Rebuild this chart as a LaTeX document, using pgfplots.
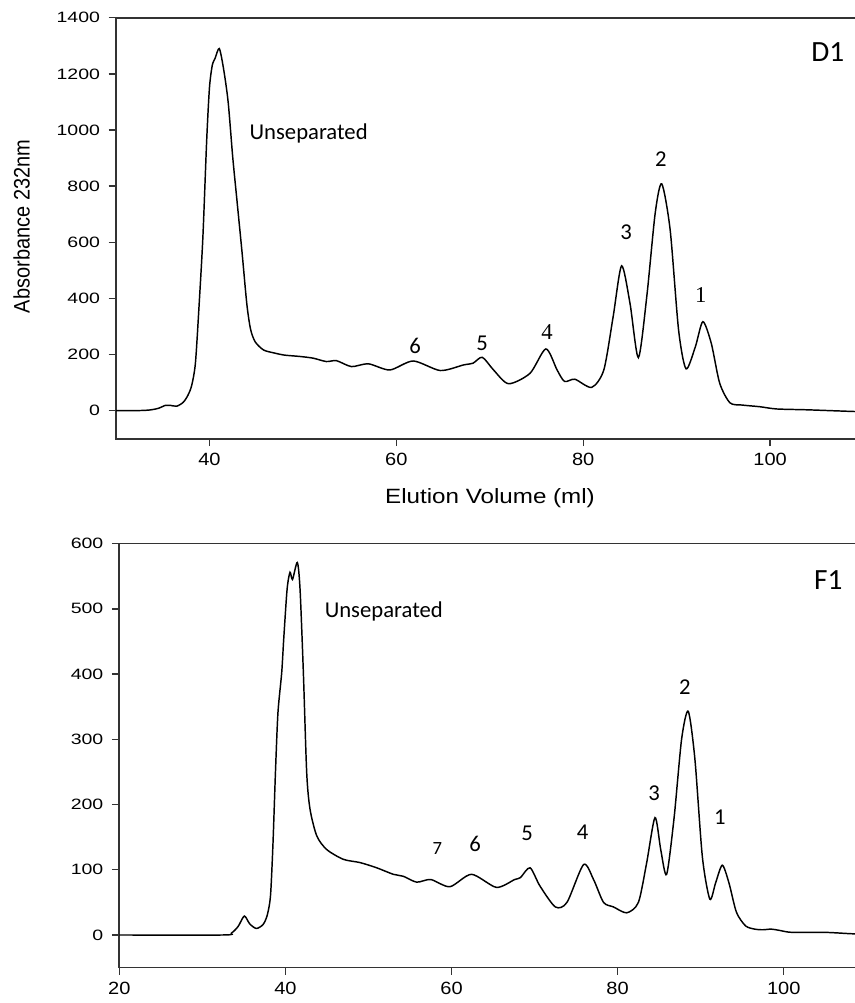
\documentclass[border=0pt]{standalone}
\usepackage{pgfplots}
\pgfplotsset{compat=1.18}
\usepackage{graphicx}
\usepackage{fontspec}
\setmainfont{Liberation Sans}
\newfontfamily\calib{Carlito}
\newfontfamily\tnr{Liberation Serif}

\pgfplotstableread{
x y
30 0
32 0
33.5 2
34.5 8
35.3 19
35.8 19
36.5 16
37.2 30
37.7 55
38.1 90
38.5 170
38.9 380
39.3 620
39.7 960
40.0 1150
40.3 1230
40.6 1255
41.05 1290
41.5 1220
42.0 1100
42.5 900
43.0 730
43.5 560
44.0 380
44.4 290
44.9 245
45.8 216
47 205
48 198
49.7 193
51.1 187
52.5 175
53.6 178
55.2 157
57.0 167
59.3 145
61.8 177
64.7 143
67.2 163
68.2 169
69.2 190
70.4 145
72.0 96
74.3 133
76.0 220
77.2 145
78.0 104
79.1 112
80.9 83
82.2 145
83.2 335
84.1 516
85.0 383
85.9 189
86.8 407
87.7 704
88.4 808
89.3 644
90.2 288
91.0 149
92.0 228
92.8 317
93.7 240
94.6 98
95.7 28
97 20
98.9 14
100.7 6
104 3
109 -3
110 -3
}\dataD

\pgfplotstableread{
x y
20 0
32.5 0
33.5 3
34.3 13
35.05 29
35.7 17
36.5 10
37.3 16
37.8 30
38.2 60
38.5 140
38.8 250
39.1 341
39.55 402
39.8 455
40.2 530
40.55 556
40.85 545
41.43 571
41.76 530
42.16 402
42.56 249
42.96 193
43.77 152
44.97 131
46.97 116
48.98 111
50.99 103
52.99 93
54.2 90
55.8 81
57.5 85
59.8 74
62.4 93
65.4 73
67.6 85
68.3 88
69.45 103
70.65 75
72.5 43
73.9 50
75.9 108
77.1 85
78.3 50
79.5 43
81.1 34
82.5 50
83.5 111
84.5 180
85.2 130
85.9 93
86.8 180
87.7 300
88.5 343
89.3 270
90.2 120
91.1 55
91.8 80
92.6 107
93.4 80
94.3 35
95.4 14
96.5 9
97.5 8
98.5 9
99.5 7
101 4
105 4
108 2
110 1
}\dataF

\pgfplotsset{
  chrom/.style={
    scale only axis,
    axis line style={black!80, line width=1.3pt},
    tick style={black!80, line width=1.1pt},
    major tick length=5.5pt,
    tick align=outside,
    xtick pos=bottom, ytick pos=left,
    /pgf/number format/assume math mode=true,
    /pgf/number format/1000 sep={},
    yticklabel style={font=\fontsize{11.25}{13}\selectfont, xshift=-3pt},
    xticklabel style={font=\fontsize{13.3}{15}\selectfont, yshift=-2pt},
    xticklabel={\scalebox{1.13}[1]{\pgfmathprintnumber{\tick}}},
    yticklabel={\scalebox{1.3}[1]{\pgfmathprintnumber{\tick}}},
  },
}
\tikzset{
  lbl/.style={font=\fontsize{17}{20}\calib, anchor=base},
  lblS/.style={font=\fontsize{17}{20}\tnr, anchor=base},
}

\begin{document}
\begin{tikzpicture}
\path[use as bounding box] (0,0) rectangle (641.25pt,752.25pt);

\begin{axis}[chrom,
  at={(87pt,423.2pt)}, anchor=south west,
  width=560.7pt, height=315.75pt,
  xmin=30, xmax=110, ymin=-100, ymax=1400,
  xtick={40,60,80,100}, ytick={0,200,400,600,800,1000,1200,1400},
]
\addplot[black, line width=1.1pt, smooth, tension=0.45] table {\dataD};
\node[font=\fontsize{17}{20}\calib, anchor=base west] at (axis cs:43.8,966) {Unseparated};
\node[font=\fontsize{22}{26}\calib, anchor=base west] at (axis cs:103.9,1245) {D1};
\node[lbl] at (axis cs:88.3,870) {2};
\node[lbl] at (axis cs:84.6,609) {3};
\node[lblS] at (axis cs:92.57,385) {1};
\node[lblS] at (axis cs:76.13,252) {4};
\node[lbl] at (axis cs:69.17,216) {5};
\node[lbl] at (axis cs:62.0,202) {6};
\end{axis}

\begin{axis}[chrom,
  at={(89.5pt,26.55pt)}, anchor=south west,
  width=560.6pt, height=318pt,
  xmin=20, xmax=110, ymin=-50, ymax=600,
  xtick={20,40,60,80,100}, ytick={0,100,200,300,400,500,600},
]
\addplot[black, line width=1.1pt, smooth, tension=0.45] table {\dataF};
\node[font=\fontsize{17}{20}\calib, anchor=base west] at (axis cs:44.17,486.8) {Unseparated};
\node[font=\fontsize{22}{26}\calib, anchor=base west] at (axis cs:103.08,530.2) {F1};
\node[lbl] at (axis cs:88.1,369) {2};
\node[lbl] at (axis cs:84.38,206.6) {3};
\node[lbl] at (axis cs:92.3,170) {1};
\node[lbl] at (axis cs:75.77,145.7) {4};
\node[lbl] at (axis cs:69.11,145.2) {5};
\node[lbl] at (axis cs:62.83,127.3) {6};
\node[lbl, font=\fontsize{14}{16}\calib] at (axis cs:58.28,123.8) {7};
\end{axis}

\node[rotate=90, font=\fontsize{15}{18}\selectfont] at (16.3pt,582.4pt) {\scalebox{1}[1.12]{Absorbance 232nm}};
\node[font=\fontsize{15.5}{18}\selectfont] at (367.5pt,378.75pt) {\scalebox{1.17}[1]{Elution Volume (ml)}};
\end{tikzpicture}
\end{document}
